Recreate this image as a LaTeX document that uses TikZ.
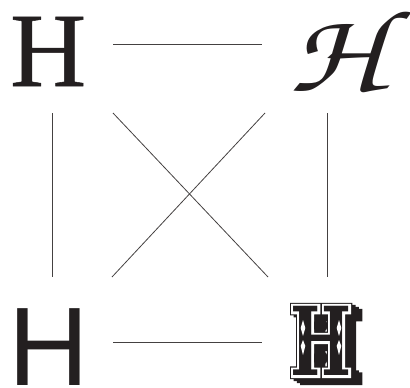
\documentclass[tikz,border=0pt]{standalone}
\usepackage{fontspec}
\newfontfamily\serifH{Liberation Serif}[FakeBold=0.5]
\newfontfamily\sansH{Liberation Sans}
\newfontfamily\ornIn{DejaVu Serif}[UprightFont=* Bold, FakeStretch=0.68]
\newfontfamily\ornMid{DejaVu Serif}[UprightFont=* Bold, FakeStretch=0.68, FakeBold=5.1]
\newfontfamily\ornOut{DejaVu Serif}[UprightFont=* Bold, FakeStretch=0.68, FakeBold=7.4]
\definecolor{ink}{RGB}{35,31,32}
\begin{document}
\begin{tikzpicture}[x=1pt,y=-1pt,
  glyph/.style={inner sep=0, outer sep=0, anchor=base west, text=ink},
  orn/.style={inner sep=0, outer sep=0, anchor=base west},
  link/.style={draw=ink!85, line width=0.8pt},
  deco/.style={fill=white, draw=none},
  counter/.style={fill=ink, draw=none, rounded corners=3pt}]
\useasboundingbox (0,0) rectangle (410,388);
% letters
\node[glyph, font=\fontsize{117}{117}\usefont{T1}{pzc}{m}{it}] (cal) at (289,91) {\scalebox{1.15}[1]{H}};
\node[glyph, font=\fontsize{105.7}{106}\serifH] (serif) at (10,86) {H};
\node[glyph, font=\fontsize{111.7}{112}\sansH] (sans) at (8.1,385) {H};
% ornamental H: shadow, outline, inline, body
\node[orn, text=ink, font=\fontsize{95}{95}\ornOut] (ornS3) at (300.6,381.6) {H};
\node[orn, text=ink, font=\fontsize{95}{95}\ornOut] (ornS2) at (297.3,379.6) {H};
\node[orn, text=ink, font=\fontsize{95}{95}\ornOut] (ornS1) at (294,377.6) {H};
\node[orn, text=ink, font=\fontsize{95}{95}\ornOut] (ornO) at (290.6,375.6) {H};
\node[orn, text=white, font=\fontsize{95}{95}\ornMid] (ornM) at (290.6,375.6) {H};
\node[orn, text=ink, font=\fontsize{95}{95}\ornIn] (orn) at (290.6,375.6) {H};
% ornament details
\fill[counter] (314,331) -- (314,320) -- (327,320) -- (327,331) -- cycle;
\fill[counter] (314,364) -- (314,352) -- (327,352) -- (327,364) -- cycle;
\foreach \cx in {303,339} {
  \fill[deco] (\cx,320) -- (\cx+2.3,328) -- (\cx,336) -- (\cx-2.3,328) -- cycle;
  \fill[deco] (\cx,340) -- (\cx+2.3,346) -- (\cx,355) -- (\cx-2.3,346) -- cycle;
}
% connector end points
\coordinate (t1) at (113,44);  \coordinate (t2) at (262,44);
\coordinate (b1) at (113,342); \coordinate (b2) at (262,342);
\coordinate (l1) at (52,113);  \coordinate (l2) at (52,277);
\coordinate (r1) at (327,113); \coordinate (r2) at (327,277);
\coordinate (d1) at (113,113); \coordinate (d2) at (268,277);
\coordinate (e1) at (265,113); \coordinate (e2) at (112,277);
\draw[link] (t1) -- (t2);
\draw[link] (b1) -- (b2);
\draw[link] (l1) -- (l2);
\draw[link] (r1) -- (r2);
\draw[link] (d1) -- (d2);
\draw[link] (e1) -- (e2);
\end{tikzpicture}
\end{document}
